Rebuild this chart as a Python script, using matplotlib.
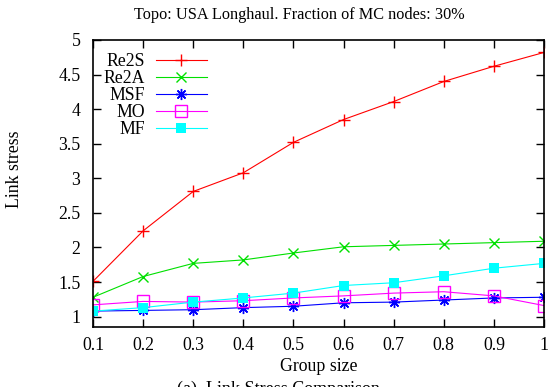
import numpy as np
import matplotlib
matplotlib.use("Agg")
import matplotlib.pyplot as plt

plt.rcParams["font.family"] = ["Liberation Serif", "DejaVu Serif"]
plt.rcParams["font.size"] = 12.8

group_size = [0.1, 0.2, 0.3, 0.4, 0.5, 0.6, 0.7, 0.8, 0.9, 1.0]
re2s = [1.51, 2.24, 2.81, 3.08, 3.52, 3.85, 4.11, 4.40, 4.62, 4.82]
re2a = [1.28, 1.58, 1.77, 1.82, 1.92, 2.01, 2.03, 2.05, 2.07, 2.09]
msf = [1.08, 1.09, 1.10, 1.13, 1.15, 1.20, 1.21, 1.24, 1.27, 1.28]
mo = [1.17, 1.22, 1.21, 1.23, 1.27, 1.30, 1.34, 1.36, 1.30, 1.16]
mf = [1.08, 1.13, 1.21, 1.27, 1.34, 1.45, 1.49, 1.59, 1.70, 1.77]

x_ticks = [0.1, 0.2, 0.3, 0.4, 0.5, 0.6, 0.7, 0.8, 0.9, 1.0]
x_ticklabels = ["0.1", "0.2", "0.3", "0.4", "0.5", "0.6", "0.7", "0.8", "0.9", "1"]
y_ticks = [1, 1.5, 2, 2.5, 3, 3.5, 4, 4.5, 5]
y_ticklabels = ["1", "1.5", "2", "2.5", "3", "3.5", "4", "4.5", "5"]

fig = plt.figure(figsize=(5.55, 3.87), dpi=100)
ax = fig.add_axes([93 / 555, 1 - 327 / 387, 451 / 555, 287 / 387])

lw = 0.8
ax.plot(group_size, re2s, color="#ff0000", lw=lw, marker="+", ms=8, mew=1.0, label="Re2S")
ax.plot(group_size, re2a, color="#00e000", lw=lw, marker="x", ms=7, mew=1.0, label="Re2A")
ax.plot(group_size, msf, color="#0000ff", lw=lw, marker=(8, 2, 0), ms=8, mew=1.0, label="MSF")
ax.plot(group_size, mo, color="#ff00ff", lw=lw, marker="s", ms=8, mew=1.0,
        mfc="none", label="MO")
ax.plot(group_size, mf, color="#00ffff", lw=lw, marker="s", ms=7.5, mew=0,
        label="MF")

ax.set_xlim(0.1, 1.0)
ax.set_ylim(0.85, 5)
ax.set_xticks(x_ticks)
ax.set_xticklabels(x_ticklabels)
ax.set_yticks(y_ticks)
ax.set_yticklabels(y_ticklabels)
ax.tick_params(direction="in", length=6, width=1.0, top=True, right=True)
ax.tick_params(axis="x", pad=7)
ax.tick_params(axis="y", pad=9)
for s in ax.spines.values():
    s.set_linewidth(1.2)

# gnuplot centres the title a little left of the plot centre
ax.set_title("Topo: USA Longhaul. Fraction of MC nodes: 30%", fontsize=11.7,
             pad=15, x=0.457)
ax.set_xlabel("Group size", labelpad=3)
ax.set_ylabel("Link stress")
ax.yaxis.set_label_coords(-0.155, 0.55)

leg = ax.legend(loc="upper right", bbox_to_anchor=(0.253, 0.955), frameon=False,
                markerfirst=False, handlelength=2.9, handletextpad=0.6,
                labelspacing=0.0, borderpad=0, borderaxespad=0)

fig.text(278 / 555, 1 - 381 / 387, "(a)  Link Stress Comparison", ha="center",
         va="top", fontsize=13)

fig.savefig("out.png", dpi=100)
